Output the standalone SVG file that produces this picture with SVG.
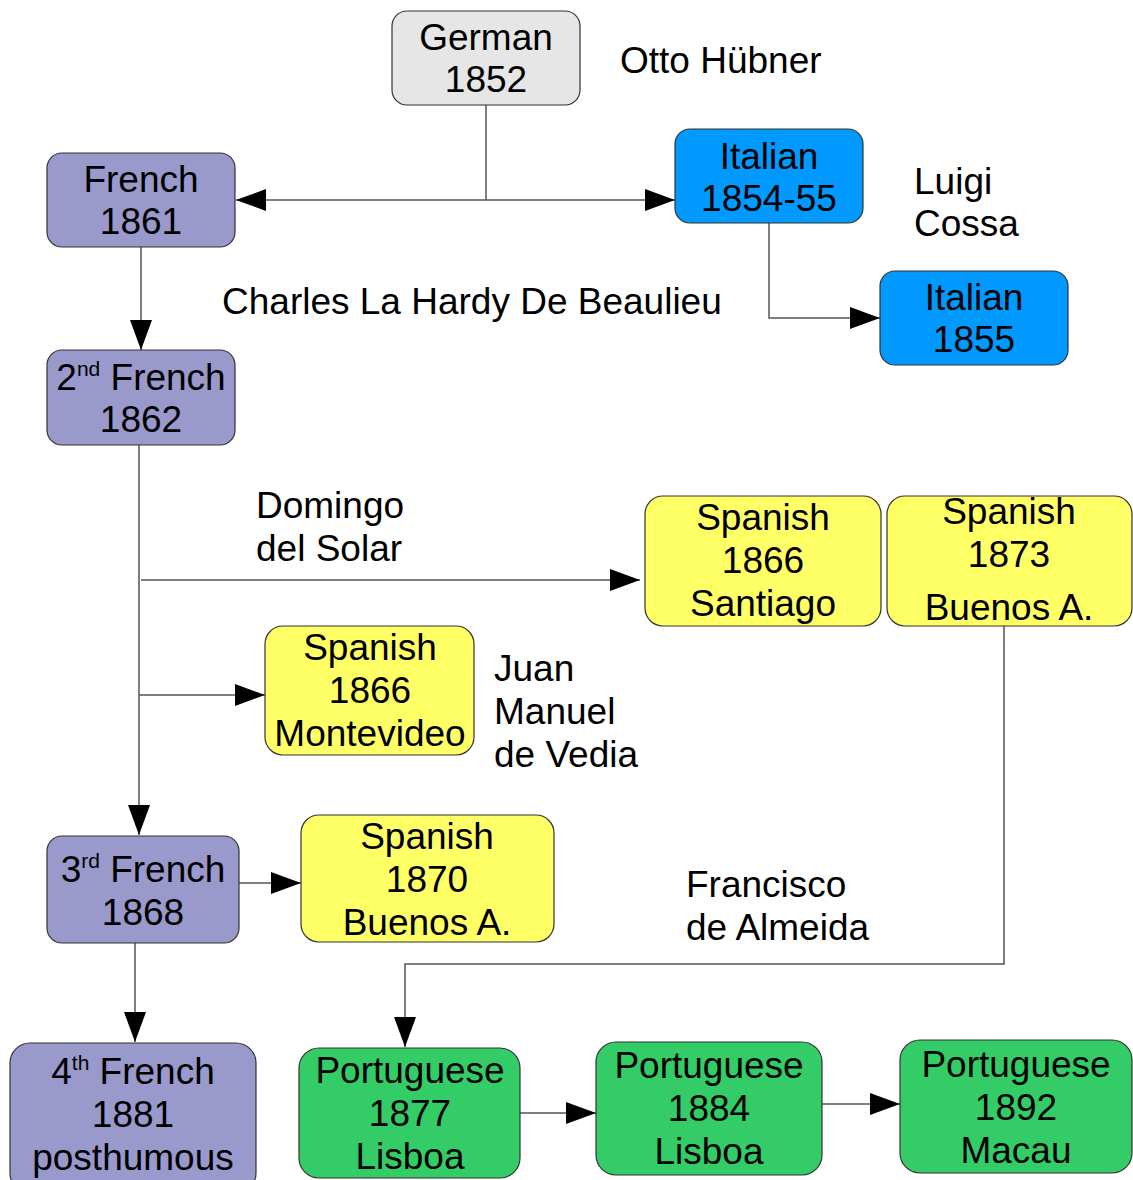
<svg xmlns="http://www.w3.org/2000/svg" width="1133" height="1180" viewBox="0 0 1133 1180">
<style>
.box{stroke:#333;stroke-width:1.2}
.fr{fill:#9999cc}.it{fill:#0099ff}.es{fill:#ffff66}.pt{fill:#33cc66}.de{fill:#e6e6e6}
text{font-family:"Liberation Sans",Arial,sans-serif;font-size:37px;fill:#000}
.c{text-anchor:middle}
.sup{font-size:21px}
.ln{fill:none;stroke:#555;stroke-width:1.5}
.ar{marker-end:url(#ah)}
</style>
<defs>
<marker id="ah" markerUnits="userSpaceOnUse" markerWidth="31" markerHeight="24" refX="30" refY="11" orient="auto">
<path d="M0,0 L30,11 L0,22 z" fill="#000"/>
</marker>
</defs>
<rect width="1133" height="1180" fill="#fff"/>
<g id="connectors">
<path class="ln" d="M486,105 V200"/>
<path class="ln ar" d="M486,200 H236"/>
<path class="ln ar" d="M486,200 H675"/>
<path class="ln ar" d="M769,223 V318 H880"/>
<path class="ln ar" d="M141,247 V350"/>
<path class="ln ar" d="M139,445 V835"/>
<path class="ln ar" d="M141,580 H640"/>
<path class="ln ar" d="M139,695 H265"/>
<path class="ln ar" d="M239,883 H301"/>
<path class="ln ar" d="M1004,626 V964 H405 V1047"/>
<path class="ln ar" d="M135,943 V1042"/>
<path class="ln ar" d="M520,1113 H596"/>
<path class="ln ar" d="M822,1104 H900"/>
</g>
<g id="german1852"><rect class="box de" x="392" y="11" width="188" height="94" rx="15"/>
<text class="c" x="486" y="50">German</text><text class="c" x="486" y="92">1852</text></g>
<g id="french1861"><rect class="box fr" x="47" y="153" width="188" height="94" rx="15"/>
<text class="c" x="141" y="192">French</text><text class="c" x="141" y="234">1861</text></g>
<g id="italian1854"><rect class="box it" x="675" y="129" width="188" height="94" rx="15"/>
<text class="c" x="769" y="169">Italian</text><text class="c" x="769" y="211">1854-55</text></g>
<g id="italian1855"><rect class="box it" x="880" y="271" width="188" height="94" rx="15"/>
<text class="c" x="974" y="310">Italian</text><text class="c" x="974" y="352">1855</text></g>
<g id="french1862"><rect class="box fr" x="47" y="350" width="188" height="95" rx="15"/>
<text class="c" x="141" y="390"><tspan>2</tspan><tspan class="sup" dy="-14">nd</tspan><tspan dy="14"> French</tspan></text>
<text class="c" x="141" y="432">1862</text></g>
<g id="spanish1866santiago"><rect class="box es" x="645" y="496" width="236" height="130" rx="18"/>
<text class="c" x="763" y="530">Spanish</text><text class="c" x="763" y="573">1866</text><text class="c" x="763" y="616">Santiago</text></g>
<g id="spanish1873"><rect class="box es" x="887" y="496" width="245" height="130" rx="18"/>
<text class="c" x="1009" y="524">Spanish</text><text class="c" x="1009" y="567">1873</text><text class="c" x="1009" y="620">Buenos A.</text></g>
<g id="spanish1866montevideo"><rect class="box es" x="265" y="626" width="209" height="129" rx="18"/>
<text class="c" x="370" y="660">Spanish</text><text class="c" x="370" y="703">1866</text><text class="c" x="370" y="746">Montevideo</text></g>
<g id="french1868"><rect class="box fr" x="47" y="836" width="192" height="107" rx="15"/>
<text class="c" x="143" y="882"><tspan>3</tspan><tspan class="sup" dy="-14">rd</tspan><tspan dy="14"> French</tspan></text>
<text class="c" x="143" y="925">1868</text></g>
<g id="spanish1870"><rect class="box es" x="301" y="815" width="253" height="127" rx="18"/>
<text class="c" x="427" y="849">Spanish</text><text class="c" x="427" y="892">1870</text><text class="c" x="427" y="935">Buenos A.</text></g>
<g id="french1881"><rect class="box fr" x="10" y="1043" width="246" height="150" rx="20"/>
<text class="c" x="133" y="1084"><tspan>4</tspan><tspan class="sup" dy="-14">th</tspan><tspan dy="14"> French</tspan></text>
<text class="c" x="133" y="1127">1881</text><text class="c" x="133" y="1170">posthumous</text></g>
<g id="portuguese1877"><rect class="box pt" x="299" y="1048" width="221" height="130" rx="20"/>
<text class="c" x="410" y="1083">Portuguese</text><text class="c" x="410" y="1126">1877</text><text class="c" x="410" y="1169">Lisboa</text></g>
<g id="portuguese1884"><rect class="box pt" x="596" y="1042" width="226" height="133" rx="20"/>
<text class="c" x="709" y="1078">Portuguese</text><text class="c" x="709" y="1121">1884</text><text class="c" x="709" y="1164">Lisboa</text></g>
<g id="portuguese1892"><rect class="box pt" x="900" y="1040" width="232" height="133" rx="20"/>
<text class="c" x="1016" y="1077">Portuguese</text><text class="c" x="1016" y="1120">1892</text><text class="c" x="1016" y="1163">Macau</text></g>
<g id="labels">
<text x="620" y="73">Otto Hübner</text>
<text x="914" y="194">Luigi</text><text x="914" y="236">Cossa</text>
<text x="222" y="314">Charles La Hardy De Beaulieu</text>
<text x="256" y="518">Domingo</text><text x="256" y="561">del Solar</text>
<text x="494" y="681">Juan</text><text x="494" y="724">Manuel</text><text x="494" y="767">de Vedia</text>
<text x="686" y="897">Francisco</text><text x="686" y="940">de Almeida</text>
</g>
</svg>
